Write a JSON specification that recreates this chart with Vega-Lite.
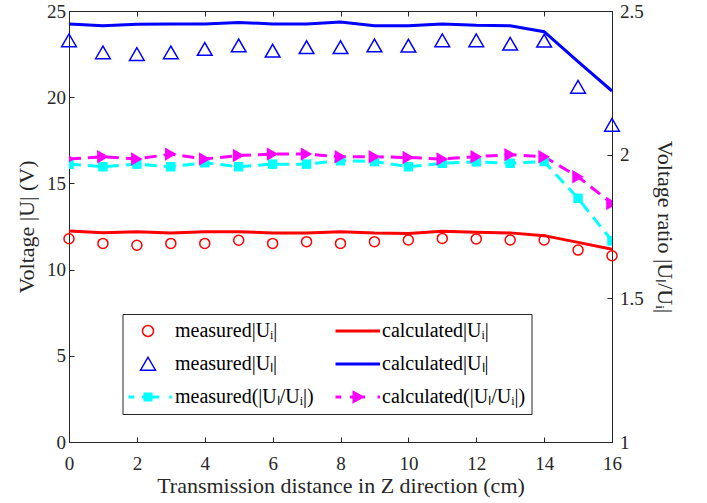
{
  "$schema": "https://vega.github.io/schema/vega-lite/v6.json",
  "width": 543,
  "height": 431,
  "autosize": {"type": "none"},
  "padding": {"left": 69, "top": 11, "right": 95, "bottom": 61},
  "background": "white",
  "config": {
    "font": "Liberation Serif",
    "view": {"stroke": "#262626", "strokeWidth": 1},
    "axis": {
      "labelFont": "Liberation Serif", "titleFont": "Liberation Serif",
      "labelFontSize": 19, "titleFontSize": 22, "titleFontWeight": "normal",
      "labelColor": "#262626", "titleColor": "#262626",
      "domainColor": "#262626", "tickColor": "#262626",
      "grid": false, "tickSize": -5, "labelPadding": 12.5,
      "labelFlush": false, "labelOverlap": false
    }
  },
  "data": {"values": [
    {"x":0,"s":"Ui_m","v":11.79},{"x":1,"s":"Ui_m","v":11.52},{"x":2,"s":"Ui_m","v":11.41},{"x":3,"s":"Ui_m","v":11.52},{"x":4,"s":"Ui_m","v":11.52},{"x":5,"s":"Ui_m","v":11.7},{"x":6,"s":"Ui_m","v":11.52},{"x":7,"s":"Ui_m","v":11.62},{"x":8,"s":"Ui_m","v":11.52},{"x":9,"s":"Ui_m","v":11.62},{"x":10,"s":"Ui_m","v":11.72},{"x":11,"s":"Ui_m","v":11.81},{"x":12,"s":"Ui_m","v":11.78},{"x":13,"s":"Ui_m","v":11.72},{"x":14,"s":"Ui_m","v":11.72},{"x":15,"s":"Ui_m","v":11.13},{"x":16,"s":"Ui_m","v":10.8},
    {"x":0,"s":"Ui_c","v":12.24},{"x":1,"s":"Ui_c","v":12.14},{"x":2,"s":"Ui_c","v":12.2},{"x":3,"s":"Ui_c","v":12.13},{"x":4,"s":"Ui_c","v":12.2},{"x":5,"s":"Ui_c","v":12.2},{"x":6,"s":"Ui_c","v":12.13},{"x":7,"s":"Ui_c","v":12.13},{"x":8,"s":"Ui_c","v":12.2},{"x":9,"s":"Ui_c","v":12.12},{"x":10,"s":"Ui_c","v":12.1},{"x":11,"s":"Ui_c","v":12.22},{"x":12,"s":"Ui_c","v":12.16},{"x":13,"s":"Ui_c","v":12.13},{"x":14,"s":"Ui_c","v":11.97},{"x":15,"s":"Ui_c","v":11.58},{"x":16,"s":"Ui_c","v":11.18},
    {"x":0,"s":"UL_m","v":23.3},{"x":1,"s":"UL_m","v":22.6},{"x":2,"s":"UL_m","v":22.5},{"x":3,"s":"UL_m","v":22.6},{"x":4,"s":"UL_m","v":22.8},{"x":5,"s":"UL_m","v":23.0},{"x":6,"s":"UL_m","v":22.7},{"x":7,"s":"UL_m","v":22.9},{"x":8,"s":"UL_m","v":22.9},{"x":9,"s":"UL_m","v":23.0},{"x":10,"s":"UL_m","v":22.99},{"x":11,"s":"UL_m","v":23.3},{"x":12,"s":"UL_m","v":23.3},{"x":13,"s":"UL_m","v":23.1},{"x":14,"s":"UL_m","v":23.28},{"x":15,"s":"UL_m","v":20.6},{"x":16,"s":"UL_m","v":18.4},
    {"x":0,"s":"UL_c","v":24.25},{"x":1,"s":"UL_c","v":24.15},{"x":2,"s":"UL_c","v":24.23},{"x":3,"s":"UL_c","v":24.25},{"x":4,"s":"UL_c","v":24.25},{"x":5,"s":"UL_c","v":24.34},{"x":6,"s":"UL_c","v":24.25},{"x":7,"s":"UL_c","v":24.25},{"x":8,"s":"UL_c","v":24.36},{"x":9,"s":"UL_c","v":24.15},{"x":10,"s":"UL_c","v":24.15},{"x":11,"s":"UL_c","v":24.25},{"x":12,"s":"UL_c","v":24.17},{"x":13,"s":"UL_c","v":24.15},{"x":14,"s":"UL_c","v":23.8},{"x":15,"s":"UL_c","v":22.07},{"x":16,"s":"UL_c","v":20.36},
    {"x":0,"s":"R_m","v":1.967},{"x":1,"s":"R_m","v":1.958},{"x":2,"s":"R_m","v":1.967},{"x":3,"s":"R_m","v":1.958},{"x":4,"s":"R_m","v":1.972},{"x":5,"s":"R_m","v":1.958},{"x":6,"s":"R_m","v":1.967},{"x":7,"s":"R_m","v":1.967},{"x":8,"s":"R_m","v":1.979},{"x":9,"s":"R_m","v":1.976},{"x":10,"s":"R_m","v":1.958},{"x":11,"s":"R_m","v":1.97},{"x":12,"s":"R_m","v":1.975},{"x":13,"s":"R_m","v":1.97},{"x":14,"s":"R_m","v":1.976},{"x":15,"s":"R_m","v":1.848},{"x":16,"s":"R_m","v":1.70},
    {"x":0,"s":"R_c","v":1.985},{"x":1,"s":"R_c","v":1.993},{"x":2,"s":"R_c","v":1.985},{"x":3,"s":"R_c","v":2.002},{"x":4,"s":"R_c","v":1.985},{"x":5,"s":"R_c","v":1.997},{"x":6,"s":"R_c","v":2.002},{"x":7,"s":"R_c","v":2.002},{"x":8,"s":"R_c","v":1.993},{"x":9,"s":"R_c","v":1.993},{"x":10,"s":"R_c","v":1.99},{"x":11,"s":"R_c","v":1.985},{"x":12,"s":"R_c","v":1.993},{"x":13,"s":"R_c","v":2.0},{"x":14,"s":"R_c","v":1.993},{"x":15,"s":"R_c","v":1.923},{"x":16,"s":"R_c","v":1.83}
  ]},
  "layer": [
    {
      "encoding": {
        "x": {"field": "x", "type": "quantitative", "scale": {"domain": [0, 16], "nice": false},
              "axis": {"orient": "bottom", "values": [0,2,4,6,8,10,12,14,16], "title": "Transmission distance in Z direction (cm)", "labelPadding": 17, "titlePadding": 2}},
        "y": {"field": "v", "type": "quantitative", "scale": {"domain": [0, 25], "nice": false, "zero": false},
              "axis": {"orient": "left", "values": [0,5,10,15,20,25], "title": "Voltage  |U| (V)", "labelPadding": 8.5, "titlePadding": 8}}
      },
      "layer": [
        {
          "transform": [{"filter": "datum.s == 'Ui_c'"}],
          "mark": {"type": "line", "strokeWidth": 3, "color": "#ff0000"}
        },
        {
          "transform": [{"filter": "datum.s == 'UL_c'"}],
          "mark": {"type": "line", "strokeWidth": 3, "color": "#0000ff"}
        },
        {
          "transform": [{"filter": "datum.s == 'Ui_m'"}],
          "mark": {"type": "point", "shape": "circle", "filled": false, "color": "#ff0000", "size": 100, "strokeWidth": 1.5, "opacity": 1}
        },
        {
          "transform": [{"filter": "datum.s == 'UL_m'"}],
          "mark": {"type": "point", "shape": "triangle-up", "filled": false, "color": "#0000ff", "size": 216, "strokeWidth": 1.5, "opacity": 1}
        },
        {
          "transform": [{"filter": "false"}],
          "mark": {"type": "point", "filled": true, "opacity": 1},
          "encoding": {
            "fill": {"field": "s", "type": "nominal", "legend": null},
            "shape": {"field": "s", "type": "nominal",
              "scale": {"domain": ["Ui_m","UL_m","R_m","Ui_c","UL_c","R_c"],
                        "range": [
                          "M0.22,0A0.22,0.22,0,1,1,-0.22,0A0.22,0.22,0,1,1,0.22,0Z",
                          "M0,-0.27L0.3,0.25L-0.3,0.25Z",
                          "M-1,-0.03H-0.55M-1,0.03H-0.55M-0.25,-0.03H0.45M-0.25,0.03H0.45M0.85,-0.03H0.95M0.85,0.03H0.95M-0.15,-0.15H0.15V0.15H-0.15Z",
                          "M-1,-0.03H1M-1,0.03H1",
                          "M-1,-0.03H1M-1,0.03H1",
                          "M-1,-0.03H-0.55M-1,0.03H-0.55M-0.2,-0.03H0.4M-0.2,0.03H0.4M0.9,-0.03H1M0.9,0.03H1M0.33,0L-0.07,-0.22L-0.07,0.22Z"
                        ]},
              "legend": {
                "orient": "none", "legendX": 53.5, "legendY": 303, "offset": 0,
                "columns": 2, "title": null,
                "symbolSize": 2500,
                "symbolOpacity": 1,
                "symbolOffset": -6.5,
                "symbolStrokeWidth": 1.5,
                "clipHeight": 22,
                "symbolStrokeColor": {"expr": "datum.value == 'Ui_m' || datum.value == 'Ui_c' ? '#ff0000' : (datum.value == 'UL_m' || datum.value == 'UL_c' ? '#0000ff' : (datum.value == 'R_m' ? '#00ffff' : '#ff00ff'))"},
                "symbolFillColor": {"expr": "datum.value == 'R_m' ? '#00ffff' : (datum.value == 'R_c' ? '#ff00ff' : 'transparent')"},
                "labelExpr": "datum.value == 'Ui_m' ? 'measured|Uᵢ|' : datum.value == 'Ui_c' ? 'calculated|Uᵢ|' : datum.value == 'UL_m' ? 'measured|Uₗ|' : datum.value == 'UL_c' ? 'calculated|Uₗ|' : datum.value == 'R_m' ? 'measured(|Uₗ/Uᵢ|)' : 'calculated(|Uₗ/Uᵢ|)'",
                "labelFont": "Liberation Serif", "labelFontSize": 20, "labelColor": "#000000", "labelLimit": 400, "labelOffset": 1,
                "strokeColor": "#262626", "fillColor": "white", "padding": 6, "columnPadding": 21, "rowPadding": 11
              }
            }
          }
        }
      ]
    },
    {
      "encoding": {
        "x": {"field": "x", "type": "quantitative", "scale": {"domain": [0, 16], "nice": false},
              "axis": {"orient": "top", "values": [0,2,4,6,8,10,12,14,16], "labels": false, "title": null, "domain": false}},
        "y": {"field": "v", "type": "quantitative", "scale": {"domain": [1, 2.5], "nice": false, "zero": false},
              "axis": {"orient": "right", "values": [1,1.5,2,2.5], "format": "~g", "title": "Voltage ratio  |Uₗ/Uᵢ|", "titlePadding": 9}}
      },
      "layer": [
        {
          "transform": [{"filter": "datum.s == 'R_m'"}],
          "mark": {"type": "line", "strokeWidth": 3, "strokeDash": [12, 7], "clip": true, "color": "#00ffff"}
        },
        {
          "transform": [{"filter": "datum.s == 'R_c'"}],
          "mark": {"type": "line", "strokeWidth": 3, "strokeDash": [12, 7], "clip": true, "color": "#ff00ff"}
        },
        {
          "transform": [{"filter": "datum.s == 'R_m'"}],
          "mark": {"type": "point", "shape": "square", "filled": true, "color": "#00ffff", "size": 90, "opacity": 1, "clip": true}
        },
        {
          "transform": [{"filter": "datum.s == 'R_c'"}],
          "mark": {"type": "point", "shape": "triangle-right", "filled": true, "color": "#ff00ff", "size": 180, "opacity": 1, "clip": true}
        }
      ]
    }
  ],
  "resolve": {"scale": {"y": "independent"}, "axis": {"x": "independent"}}
}
